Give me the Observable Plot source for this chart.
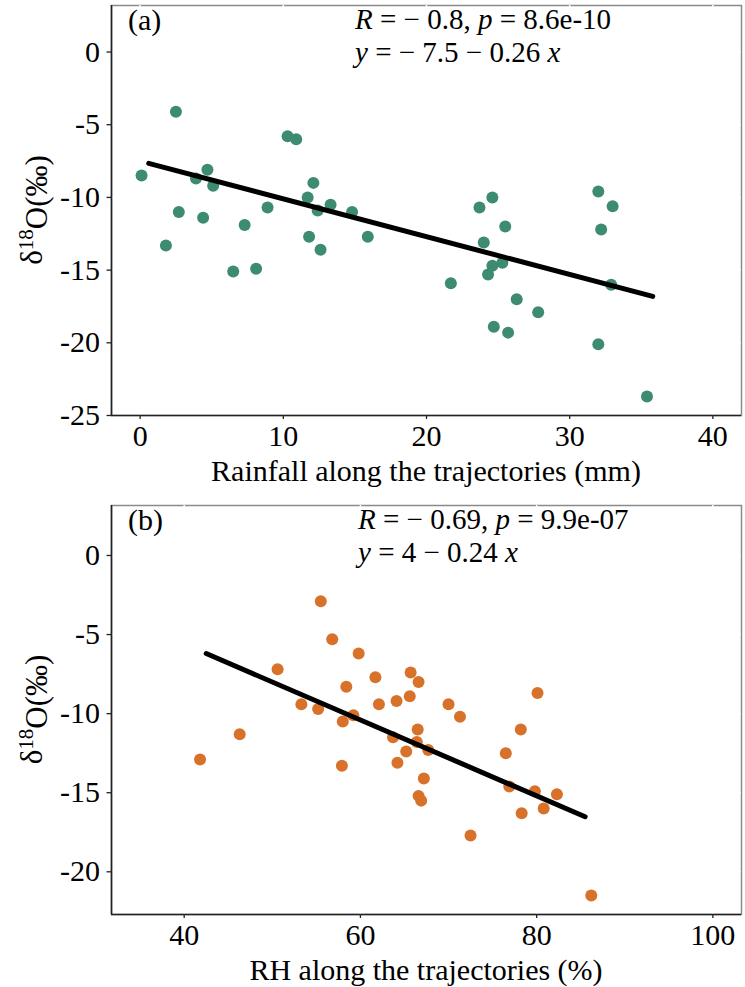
<!DOCTYPE html>
<html><head><meta charset="utf-8">
<script src="https://cdn.jsdelivr.net/npm/d3@7"></script>
<script src="https://cdn.jsdelivr.net/npm/@observablehq/plot@0.6"></script>
<style>
body{margin:0;background:#fff;}
#chart svg{display:block;}
</style></head><body><div id="chart"></div>
<script>
// Panel (a): rainfall along the trajectories (mm) vs δ18O (‰)
const rainfall = [2.5, 0.1, 3.9, 4.7, 5.1, 2.7, 4.4, 7.3, 8.9, 10.3, 10.9, 12.1, 11.7, 12.4, 13.3, 14.8,
  32.0, 33.0, 24.6, 23.7, 25.5, 32.2, 1.8, 11.8, 12.6, 15.9, 6.5, 8.1, 24.0, 24.6, 25.3, 24.3, 21.7,
  32.9, 26.3, 27.8, 24.7, 25.7, 32.0, 35.4];
const d18oRain = [-4.1, -8.5, -8.7, -8.1, -9.2, -11.0, -11.4, -11.9, -10.7, -5.8, -6.0, -9.0, -10.0, -10.9, -10.5, -11.0,
  -9.6, -10.6, -10.0, -10.7, -12.0, -12.2, -13.3, -12.7, -13.6, -12.7, -15.1, -14.9, -13.1, -14.7, -14.5, -15.3, -15.9,
  -16.0, -17.0, -17.9, -18.9, -19.3, -20.1, -23.7];
// Panel (b): RH along the trajectories (%) vs δ18O (‰)
const rh = [55.5, 56.8, 59.8, 50.6, 61.7, 65.7, 66.6, 58.4, 80.1, 65.6, 64.1, 62.1, 53.3, 55.2, 70.0, 71.3, 58.0, 59.2,
  66.5, 78.2, 46.3, 63.7, 66.4, 67.7, 65.2, 76.5, 41.8, 64.2, 57.9, 67.2, 76.9, 79.8, 82.3, 66.6, 66.9, 80.8, 78.3, 72.5, 86.2];
const d18oRH = [-2.9, -5.3, -6.2, -7.2, -7.7, -7.4, -8.0, -8.3, -8.7, -8.9, -9.2, -9.4, -9.4, -9.7, -9.4, -10.2, -10.5, -10.1,
  -11.0, -11.0, -11.3, -11.5, -11.8, -12.3, -12.4, -12.5, -12.9, -13.1, -13.3, -14.1, -14.6, -14.9, -15.1, -15.2, -15.5, -16.0, -16.3, -17.7, -21.5];

const rainTicks = [0, 10, 20, 30, 40];
const rhTicks = [40, 60, 80, 100];
const yTicksA = [0, -5, -10, -15, -20, -25];
const yTicksB = [0, -5, -10, -15, -20];
const xDomainA = [-2, 42];
const xDomainB = [31.75, 103.25];
const yDomainA = [-25, 3.2];
const yDomainB = [-22.7, 3.16];

// regression fits: [intercept, slope] and x-extent of the fitted line
const fitA = [-7.5, -0.26];
const fitB = [4, -0.24];
const fitRangeA = [0.6, 35.8];
const fitRangeB = [42.5, 85.5];

const tags = ["(a)", "(b)"];
// [text, italic]
const statsA = [[["R", true], [" = − 0.8, ", false], ["p", true], [" = 8.6e-10", false]],
                [["y", true], [" = − 7.5 − 0.26 ", false], ["x", true]]];
const statsB = [[["R", true], [" = − 0.69, ", false], ["p", true], [" = 9.9e-07", false]],
                [["y", true], [" = 4 − 0.24 ", false], ["x", true]]];
const xTitles = ["Rainfall along the trajectories (mm)", "RH along the trajectories (%)"];

const FONT = "'Liberation Serif', 'Times New Roman', serif";

function panel(o) {
  const pts = o.xs.map((x, i) => ({x, y: o.ys[i]}));
  const fitLine = o.fitRange.map(x => ({x, y: o.fit[0] + o.fit[1] * x}));
  const fmt = d => String(d);
  const plot = Plot.plot({
    width: 745, height: o.height,
    marginLeft: 111, marginRight: 4, marginTop: o.marginTop, marginBottom: o.marginBottom,
    style: {fontFamily: FONT, fontSize: "30px", color: "#000", background: "#fff", overflow: "visible"},
    x: {domain: o.xDomain},
    y: {domain: o.yDomain},
    marks: [
      Plot.frame({stroke: "#8a8a8a", strokeWidth: 1.5}),
      Plot.gridX(o.xTicks, {stroke: "#fff", strokeOpacity: 1, strokeWidth: 1.5}),
      Plot.gridY(o.yTicks, {stroke: "#fff", strokeOpacity: 1, strokeWidth: 1.5}),
      Plot.ruleX([o.xDomain[0]], {stroke: "#222", strokeWidth: 1.6}),
      Plot.ruleY([o.yDomain[0]], {stroke: "#222", strokeWidth: 1.6}),
      Plot.axisX({ticks: o.xTicks, tickSize: 4, tickPadding: 5, label: null, tickFormat: fmt, strokeWidth: 1.3, stroke: "#222"}),
      Plot.axisY({ticks: o.yTicks, tickSize: 4.5, tickPadding: 7, label: null, tickFormat: fmt, strokeWidth: 1.3, stroke: "#222"}),
      Plot.dot(pts, {x: "x", y: "y", r: 6, fill: o.color, stroke: "none"}),
      Plot.line(fitLine, {x: "x", y: "y", stroke: "#000", strokeWidth: 5})
    ]
  });
  const svg = d3.select(plot);
  const left = 111, top = o.marginTop, bottom = o.height - o.marginBottom;
  // panel tag
  svg.append("text").attr("x", left + 17).attr("y", top + 25)
    .attr("text-anchor", "start")
    .style("font-family", FONT).style("font-size", "30px").text(o.tag);
  // stats annotation
  o.stats.forEach((line, i) => {
    const t = svg.append("text").attr("x", o.statsX).attr("y", top + 24 + i * 33)
      .attr("text-anchor", "start")
      .attr("xml:space", "preserve")
      .style("font-family", FONT).style("font-size", "29px");
    line.forEach(([s, it]) => t.append("tspan").style("font-style", it ? "italic" : "normal").text(s));
  });
  // x title
  svg.append("text").attr("x", (left + 745 - 4) / 2).attr("y", bottom + 66)
    .attr("text-anchor", "middle").style("font-family", FONT).style("font-size", "30px").text(o.xTitle);
  // y title δ18O(‰)
  const yt = svg.append("text")
    .attr("transform", `translate(42,${(top + bottom) / 2}) rotate(-90)`)
    .attr("text-anchor", "middle").style("font-family", FONT).style("font-size", "31px");
  yt.append("tspan").text("δ");
  yt.append("tspan").attr("dy", "-0.45em").style("font-size", "21px").text("18");
  yt.append("tspan").attr("dy", "0.45em").text("O(‰)");
  return plot;
}

const chart = document.getElementById("chart");
chart.append(panel({
  xs: rainfall, ys: d18oRain, color: "#3d8b70", xDomain: xDomainA, yDomain: yDomainA,
  xTicks: rainTicks, yTicks: yTicksA, fit: fitA, fitRange: fitRangeA,
  height: 490, marginTop: 5, marginBottom: 75, tag: tags[0], stats: statsA, statsX: 355, xTitle: xTitles[0]
}));
chart.append(panel({
  xs: rh, ys: d18oRH, color: "#d8722b", xDomain: xDomainB, yDomain: yDomainB,
  xTicks: rhTicks, yTicks: yTicksB, fit: fitB, fitRange: fitRangeB,
  height: 497, marginTop: 15, marginBottom: 73, tag: tags[1], stats: statsB, statsX: 358, xTitle: xTitles[1]
}));
</script></body></html>
